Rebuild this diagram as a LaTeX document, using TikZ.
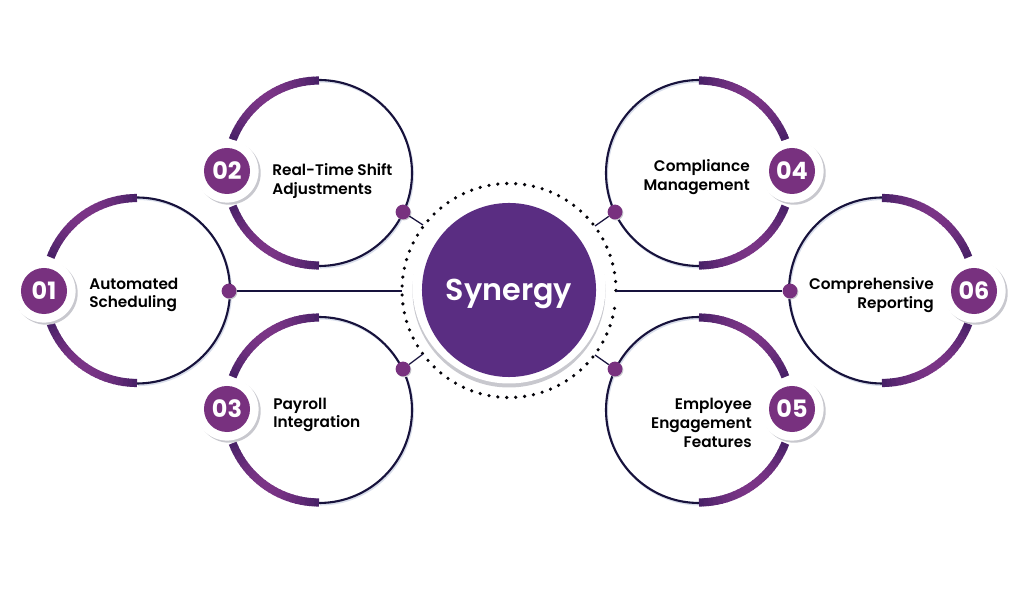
\documentclass[tikz,border=0pt]{standalone}
\usepackage{fontspec}
\setmainfont{Poppins}[BoldFont={Poppins SemiBold}]
\newfontfamily\numfont{Poppins}[UprightFont={* Bold}]
\usetikzlibrary{shadows}

\definecolor{hubPurple}{HTML}{5A2D82}
\definecolor{badgePurple}{HTML}{78317F}
\definecolor{arcLight}{HTML}{7A3486}
\definecolor{arcDark}{HTML}{472066}
\definecolor{ringNavy}{HTML}{17123C}
\definecolor{ringShade}{HTML}{D8DDEA}
\definecolor{haloShade}{HTML}{C8C8CE}

\tikzset{
    ringline/.style={draw=ringNavy, line width=1.5pt},
    ringshade/.style={draw=ringShade, line width=1.5pt},
    linkline/.style={draw=ringNavy, line width=0.9pt},
    halonode/.style={circle, fill=white, minimum size=1.58cm, inner sep=0pt, drop shadow={shadow xshift=1.5pt, shadow yshift=-1.5pt, fill=haloShade, opacity=1}},
    badgenode/.style={circle, fill=badgePurple, minimum size=1.15cm, inner sep=0pt, text=white, font=\numfont\fontsize{17}{17}\selectfont},
    joinnode/.style={circle, fill=badgePurple, minimum size=0.37cm, inner sep=0pt, drop shadow={shadow xshift=0.7pt, shadow yshift=-0.7pt, fill=haloShade, opacity=1}},
    itemlabel/.style={font=\bfseries\fontsize{10.9}{13.3}\selectfont, text=black, inner sep=0pt},
}

% thick arc, dark at both ends and lighter in the middle
\newcommand{\gradArc}[4]{
    \foreach \i in {0,...,23} {
        \pgfmathsetmacro{\mixval}{100*sin(180*(\i+0.5)/24)}
        \pgfmathsetmacro{\angA}{#3+(#4-#3)*\i/24}
        \pgfmathsetmacro{\angB}{#3+(#4-#3)*min(\i+1.2,24)/24}
        \draw[line width=5.8pt, color=arcLight!\mixval!arcDark] ({#1+92.5*cos(\angA)},{#2+92.5*sin(\angA)}) arc (\angA:\angB:92.5);
    }
}

\begin{document}
\begin{tikzpicture}[x=0.025cm,y=0.025cm]
    \useasboundingbox (0,0) rectangle (1024,597);

    % rings, thin half only
    \foreach \cx/\cy/\s in {137/306.5/-90,319/424/-90,319/187/-90,699/424/90,699/187/90,882/306.5/90} {
        \draw[ringshade] (\cx+1,\cy-1.5) ++(\s:93) arc (\s:\s+180:93);
        \draw[ringline] (\cx,\cy) ++(\s:93) arc (\s:\s+180:93);
    }
    \gradArc{137}{306.5}{90}{159} \gradArc{137}{306.5}{201}{270}
    \gradArc{319}{424}{90}{159} \gradArc{319}{424}{201}{270}
    \gradArc{319}{187}{90}{159} \gradArc{319}{187}{201}{270}
    \gradArc{699}{424}{90}{21} \gradArc{699}{424}{-21}{-90}
    \gradArc{699}{187}{90}{21} \gradArc{699}{187}{-21}{-90}
    \gradArc{882}{306.5}{90}{21} \gradArc{882}{306.5}{-21}{-90}

    % centre
    \fill[haloShade] (509,306) circle (96.5);
    \fill[white] (509,310) circle (96.5);
    \node[circle, fill=hubPurple, minimum size=4.35cm, inner sep=0pt] (hub) at (509,307) {};
    \node[text=white, inner sep=0pt, font=\bfseries\fontsize{21.5}{21.5}\selectfont] (hubtext) at (509,303.5) {Synergy};
    \foreach \a in {0,4.8,...,355} {
        \fill[black!85!ringNavy] (509,306.5)++(\a:107) circle (1.8);
    }

    % connectors
    \foreach \n/\jx/\jy/\ex/\ey in {1/229/306/402/306,2/403/385/423/372,3/403/228/423/243,4/615/385/595/371,5/615/228/595/242,6/790/306/616/306} {
        \node[joinnode] (join\n) at (\jx,\jy) {};
        \coordinate (end\n) at (\ex,\ey);
        \draw[linkline] (join\n) -- (end\n);
    }

    % badges
    \foreach \n/\bx/\by in {01/44/306,02/227/426,03/227/188,04/792/426,05/792/188,06/974/306} {
        \node[halonode] (halo\n) at (\bx,\by) {};
        \node[badgenode] (badge\n) at (\bx,\by) {\n};
    }

    % labels
    \node[itemlabel, anchor=west, align=left] (text01) at (89,302) {Automated\\Scheduling};
    \node[itemlabel, anchor=west, align=left] (text02) at (272,416) {Real-Time Shift\\Adjustments};
    \node[itemlabel, anchor=west, align=left] (text03) at (273,182) {Payroll\\Integration};
    \node[itemlabel, anchor=east, align=right] (text04) at (750,420) {Compliance\\Management};
    \node[itemlabel, anchor=east, align=right] (text05) at (752,174) {Employee\\Engagement\\Features};
    \node[itemlabel, anchor=east, align=right] (text06) at (934,302) {Comprehensive\\Reporting};
\end{tikzpicture}
\end{document}
